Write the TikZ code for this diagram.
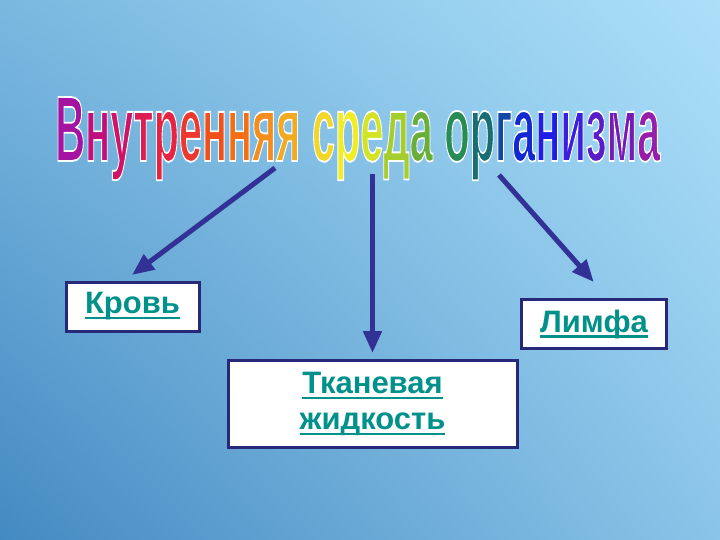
\documentclass[tikz,border=0pt]{standalone}
\usepackage{fontspec}
\setmainfont{Liberation Sans}
\usetikzlibrary{arrows.meta,shadings}

\definecolor{bgtl}{RGB}{122,184,224}
\definecolor{bgtr}{RGB}{172,224,249}
\definecolor{bgbl}{RGB}{68,138,194}
\definecolor{bgbr}{RGB}{138,196,232}
\definecolor{boxline}{RGB}{40,40,120}
\definecolor{arrowblue}{RGB}{50,50,150}
\definecolor{wordteal}{RGB}{0,146,138}

% underlined word
\newsavebox{\ulbox}
\newcommand{\ulw}[1]{\sbox\ulbox{#1}\rlap{\rule[-5.5pt]{\wd\ulbox}{2.5pt}}\usebox\ulbox}

% coloured letter with white outline (fill + stroke)
\newcommand{\lt}[2]{\textcolor[RGB]{#1}{\special{pdf:literal direct 1 1 1 RG 1.6 w 2 Tr}#2\special{pdf:literal direct 0 Tr}}}
\newcommand{\titleword}{%
  \lt{165,20,160}{В}\lt{190,15,125}{н}\lt{205,20,105}{у}\lt{220,30,85}{т}%
  \lt{230,35,65}{р}\lt{238,55,45}{е}\lt{242,80,25}{н}\lt{244,110,20}{н}%
  \lt{244,140,30}{я}\lt{242,170,35}{я} %
  \lt{242,215,40}{с}\lt{240,238,35}{р}\lt{210,228,35}{е}\lt{165,205,45}{д}%
  \lt{105,175,55}{а} %
  \lt{40,140,85}{о}\lt{25,110,115}{р}\lt{20,70,165}{г}\lt{20,40,210}{а}%
  \lt{30,30,230}{н}\lt{60,30,220}{и}\lt{90,30,200}{з}\lt{120,25,180}{м}%
  \lt{150,30,170}{а}}

\tikzset{
  box/.style={draw=boxline, line width=3pt, fill=white, text=wordteal,
    font=\fontsize{31}{36}\selectfont\bfseries, align=center,
    inner sep=0pt, outer sep=0pt},
  link/.style={draw=arrowblue, line width=5pt,
    -{Triangle[length=22pt,width=18pt]}}
}

\begin{document}
\begin{tikzpicture}[x=1pt,y=-1pt]
        %% BACKGROUND
        \useasboundingbox (0,0) rectangle (720,540);
        \shade[upper left=bgtl, upper right=bgtr, lower left=bgbl, lower right=bgbr]
          (0,0) rectangle (720,540);

        %% TITLE
        \node[anchor=base west, inner sep=0pt] (title) at (55,161)
          {\resizebox{605pt}{64pt}{\fontsize{80}{80}\selectfont\bfseries\titleword}};

        %% BOXES
        \node[box, minimum width=133pt, minimum height=49pt] (krov) at (132.5,306.5) {\ulw{Кровь}};
        \node[box, minimum width=145pt, minimum height=49pt] (limfa) at (594,324) {\ulw{Лимфа}};
        \node[box, minimum width=289pt, minimum height=87pt] (tkan) at (372.5,404) {\ulw{Тканевая}\\\ulw{жидкость}};

        %% ARROWS
        \coordinate (fromL) at (275,168);
        \coordinate (fromM) at (372.5,174);
        \coordinate (fromR) at (499,175);
        \draw[link, shorten >=11.7pt] (fromL) -- (krov.112);
        \draw[link, shorten >=7.5pt] (fromM) -- (tkan.north);
        \draw[link, shorten >=23.4pt] (fromR) -- (limfa.58);
\end{tikzpicture}
\end{document}
